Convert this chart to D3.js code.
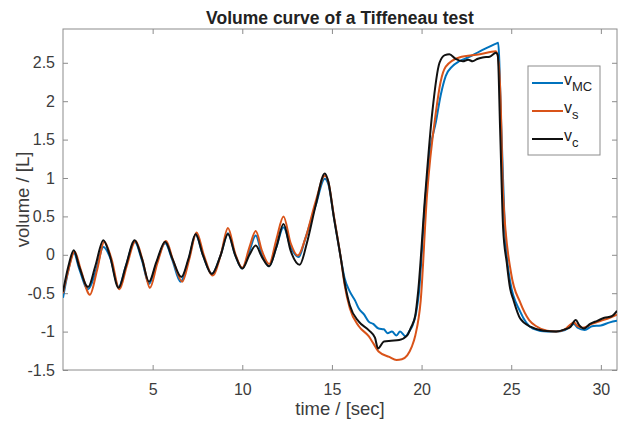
<!DOCTYPE html>
<html>
<head>
<meta charset="utf-8">
<script src="https://cdn.jsdelivr.net/npm/d3@7/dist/d3.min.js"></script>
<style>
  body { margin: 0; background: #fff; }
  svg { font-family: 'Liberation Sans', Arial, Helvetica, sans-serif; }
</style>
</head>
<body>
<div id="chart"></div>
<script>
// readings of the three volume curves: [time (s), volume (L)]
const vMC = [
  [0.0, -0.56], [0.3, -0.2], [0.6, 0.03], [0.9, -0.18], [1.4, -0.45], [1.85, -0.2], [2.25, 0.1],
  [2.65, -0.05], [3.1, -0.42], [3.5, -0.15], [4.0, 0.17], [4.4, -0.07], [4.8, -0.38], [5.2, -0.12],
  [5.7, 0.15], [6.1, -0.07], [6.55, -0.35], [7.0, -0.07], [7.4, 0.26], [7.8, 0.0], [8.3, -0.25],
  [8.8, 0.0], [9.2, 0.28], [9.6, 0.0], [10.0, -0.18], [10.4, 0.05], [10.75, 0.25], [11.1, 0.0],
  [11.5, -0.15], [11.9, 0.1], [12.3, 0.36], [12.7, 0.1], [13.15, -0.03], [13.5, 0.2], [14.1, 0.65],
  [14.6, 0.99], [14.8, 0.92], [15.1, 0.5], [15.5, -0.05], [15.7, -0.3], [16.0, -0.48], [16.3, -0.6],
  [16.5, -0.7], [16.8, -0.78], [17.05, -0.87], [17.3, -0.9], [17.6, -0.96], [17.9, -0.97],
  [18.1, -1.02], [18.35, -1.0], [18.6, -1.05], [18.8, -1.0], [19.1, -1.06], [19.3, -1.0],
  [19.5, -0.92], [19.7, -0.75], [19.85, -0.5], [20.2, 0.7], [20.5, 1.4], [20.8, 1.73], [21.06, 2.07],
  [21.35, 2.33], [21.7, 2.45], [22.1, 2.52], [22.6, 2.57], [23.25, 2.65], [23.7, 2.7], [24.15, 2.75],
  [24.27, 2.76], [24.45, 1.64], [24.65, 0.34], [24.94, -0.35], [25.5, -0.74], [26.2, -0.96],
  [27.0, -1.0], [27.5, -1.0], [28.0, -0.98], [28.5, -0.9], [28.7, -0.95], [29.1, -0.98],
  [29.5, -0.93], [30.0, -0.92], [30.5, -0.88], [30.9, -0.86]
]
const vS = [
  [0.0, -0.5], [0.3, -0.2], [0.65, 0.04], [1.0, -0.2], [1.5, -0.52], [1.9, -0.2], [2.3, 0.17],
  [2.7, -0.05], [3.15, -0.45], [3.55, -0.15], [4.05, 0.18], [4.45, -0.08], [4.85, -0.43],
  [5.25, -0.12], [5.75, 0.18], [6.15, -0.08], [6.65, -0.35], [7.05, -0.05], [7.45, 0.29],
  [7.85, 0.0], [8.35, -0.27], [8.8, 0.0], [9.2, 0.35], [9.6, 0.02], [10.0, -0.17], [10.4, 0.1],
  [10.75, 0.31], [11.1, 0.05], [11.5, -0.12], [11.9, 0.2], [12.3, 0.5], [12.7, 0.15], [13.1, -0.01],
  [13.5, 0.2], [14.1, 0.7], [14.6, 1.03], [14.8, 0.95], [15.1, 0.52], [15.5, -0.05], [15.7, -0.38],
  [16.0, -0.7], [16.5, -0.93], [17.05, -1.06], [17.3, -1.15], [17.6, -1.26], [18.2, -1.33],
  [18.6, -1.37], [18.9, -1.36], [19.2, -1.31], [19.45, -1.2], [19.65, -1.05], [19.95, -0.6],
  [20.3, 0.77], [20.8, 1.86], [21.06, 2.25], [21.35, 2.45], [22.1, 2.57], [23.25, 2.61],
  [24.15, 2.65], [24.3, 2.5], [24.4, 2.07], [24.55, 0.77], [25.0, -0.25], [25.5, -0.62],
  [26.0, -0.85], [26.4, -0.93], [27.0, -0.99], [27.5, -1.0], [28.0, -0.97], [28.5, -0.88],
  [28.7, -0.93], [29.0, -0.95], [29.5, -0.9], [30.0, -0.86], [30.5, -0.82], [30.9, -0.78]
]
const vC = [
  [0.0, -0.48], [0.3, -0.15], [0.6, 0.06], [0.9, -0.15], [1.4, -0.42], [1.8, -0.15], [2.25, 0.19],
  [2.6, 0.0], [3.1, -0.43], [3.5, -0.15], [4.0, 0.19], [4.4, -0.05], [4.8, -0.35], [5.2, -0.1],
  [5.7, 0.17], [6.1, -0.05], [6.6, -0.29], [7.0, -0.05], [7.4, 0.27], [7.8, 0.0], [8.3, -0.25],
  [8.8, 0.0], [9.2, 0.27], [9.6, 0.0], [10.0, -0.18], [10.4, 0.0], [10.75, 0.12], [11.1, -0.03],
  [11.5, -0.15], [11.9, 0.1], [12.3, 0.4], [12.7, 0.05], [13.2, -0.13], [13.6, 0.15], [14.1, 0.65],
  [14.6, 1.06], [14.8, 0.95], [15.1, 0.5], [15.5, -0.05], [15.7, -0.35], [16.0, -0.66],
  [16.5, -0.87], [17.05, -0.98], [17.4, -1.08], [17.57, -1.22], [17.9, -1.13], [18.3, -1.12],
  [18.75, -1.11], [19.2, -1.05], [19.4, -0.95], [19.65, -0.79], [19.8, -0.5], [20.2, 0.77],
  [20.6, 1.86], [21.0, 2.5], [21.3, 2.6], [21.55, 2.61], [21.9, 2.55], [22.3, 2.52], [22.6, 2.54],
  [22.85, 2.52], [23.1, 2.55], [23.4, 2.57], [23.8, 2.58], [24.15, 2.63], [24.25, 2.6],
  [24.38, 1.64], [24.55, 0.34], [24.75, -0.1], [24.94, -0.44], [25.1, -0.57], [25.5, -0.83],
  [26.1, -0.94], [26.8, -0.99], [27.5, -1.0], [28.0, -0.97], [28.3, -0.94], [28.6, -0.85],
  [28.8, -0.92], [29.05, -0.96], [29.4, -0.9], [29.8, -0.86], [30.2, -0.82], [30.6, -0.8],
  [30.9, -0.73]
]
const xTicks = [5, 10, 15, 20, 25, 30]
const yTicks = [-1.5, -1, -0.5, 0, 0.5, 1, 1.5, 2, 2.5]
const seriesNames = ['MC', 's', 'c']

const width = 618, height = 423
const margin = { top: 29, right: 1, bottom: 53, left: 63 }
const innerW = width - margin.left - margin.right
const innerH = height - margin.top - margin.bottom

const svg = d3.select('#chart').append('svg').attr('width', width).attr('height', height)
const g = svg.append('g').attr('transform', `translate(${margin.left},${margin.top})`)

const x = d3.scaleLinear().domain([0, 30.9]).range([0, innerW])
const y = d3.scaleLinear().domain([-1.5, 2.94]).range([innerH, 0])

const axisColor = '#8c8c8c'
const textColor = '#3c3c3c'

function styleAxis(sel) {
  sel.select('.domain').remove()
  sel.selectAll('line').attr('stroke', axisColor)
  sel.selectAll('text').attr('fill', textColor).attr('font-size', 16)
}

g.append('g').attr('transform', `translate(0,${innerH})`)
  .call(d3.axisBottom(x).tickValues(xTicks).tickSizeInner(-5).tickSizeOuter(0).tickPadding(14).tickFormat(d3.format('d')))
  .call(styleAxis)
g.append('g')
  .call(d3.axisTop(x).tickValues(xTicks).tickSizeInner(-5).tickSizeOuter(0).tickFormat(''))
  .call(styleAxis)
g.append('g')
  .call(d3.axisLeft(y).tickValues(yTicks).tickSizeInner(-5).tickSizeOuter(0).tickPadding(8).tickFormat(d => String(d)))
  .call(styleAxis)
g.append('g').attr('transform', `translate(${innerW},0)`)
  .call(d3.axisRight(y).tickValues(yTicks).tickSizeInner(-5).tickSizeOuter(0).tickFormat(''))
  .call(styleAxis)

g.append('rect').attr('width', innerW).attr('height', innerH)
  .attr('fill', 'none').attr('stroke', axisColor).attr('stroke-width', 1)

const colors = ['#0072BD', '#D95319', '#111111']
const line = d3.line().x(d => x(d[0])).y(d => y(d[1])).curve(d3.curveMonotoneX)
svg.append('clipPath').attr('id', 'clip').append('rect').attr('width', innerW).attr('height', innerH)
const lines = g.append('g').attr('clip-path', 'url(#clip)').attr('fill', 'none').attr('stroke-width', 2)
;[vMC, vS, vC].forEach((s, i) => {
  lines.append('path').datum(s).attr('stroke', colors[i]).attr('d', line)
})

// title and axis labels
svg.append('text').attr('x', margin.left + innerW / 2).attr('y', 24)
  .attr('text-anchor', 'middle').attr('font-size', 17.5).attr('font-weight', 'bold').attr('fill', '#222')
  .text('Volume curve of a Tiffeneau test')
svg.append('text').attr('x', margin.left + innerW / 2).attr('y', 415)
  .attr('text-anchor', 'middle').attr('font-size', 18.5).attr('fill', textColor)
  .text('time / [sec]')
svg.append('text').attr('transform', `translate(29,${margin.top + innerH / 2}) rotate(-90)`)
  .attr('text-anchor', 'middle').attr('font-size', 18.5).attr('fill', textColor)
  .text('volume / [L]')

// legend
const lg = svg.append('g').attr('transform', 'translate(528,66)')
lg.append('rect').attr('width', 72).attr('height', 89).attr('fill', '#fff').attr('stroke', axisColor)
seriesNames.forEach((nm, i) => {
  const yy = 17 + i * 28
  lg.append('line').attr('x1', 4).attr('x2', 35).attr('y1', yy).attr('y2', yy)
    .attr('stroke', colors[i]).attr('stroke-width', 2)
  const t = lg.append('text').attr('x', 36).attr('y', yy + 2).attr('font-size', 16).attr('fill', '#222')
  t.append('tspan').text('v')
  t.append('tspan').attr('dy', 6).attr('font-size', 13).text(nm)
})
</script>
</body>
</html>
